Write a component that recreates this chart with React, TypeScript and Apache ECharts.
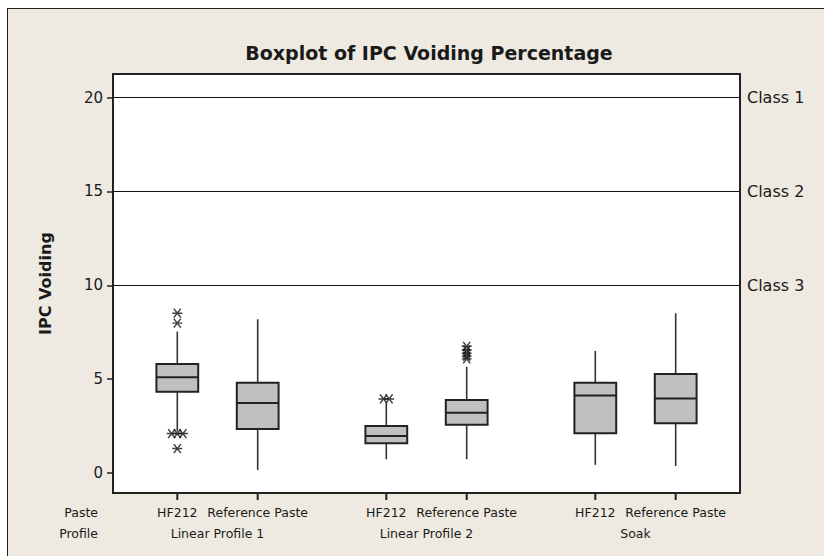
import React, { useEffect, useRef } from "react";
import * as echarts from "echarts";

// Groups along the x axis and the two pastes within each group
const profiles = ["Linear Profile 1", "Linear Profile 2", "Soak"];
const pastes = ["HF212", "Reference Paste"];

// Box summaries per profile: [lower whisker, Q1, median, Q3, upper whisker]
const hf212Boxes = [
  [2.2, 4.33, 5.1, 5.81, 7.53],
  [0.73, 1.58, 1.97, 2.5, 3.71],
  [0.43, 2.11, 4.12, 4.81, 6.5],
];
const referenceBoxes = [
  [0.15, 2.34, 3.73, 4.81, 8.19],
  [0.73, 2.57, 3.21, 3.89, 5.66],
  [0.37, 2.65, 3.96, 5.27, 8.51],
];

// Outlying observations per profile
const hf212Outliers = [
  [8.51, 7.98, 2.1, 2.1, 2.1, 1.3],
  [3.94, 3.94],
  [],
];
const referenceOutliers = [
  [],
  [6.75, 6.55, 6.38, 6.22, 6.08],
  [],
];

const yTicks = [0, 5, 10, 15, 20];
const classLimits = [20, 15, 10];
const classNames = ["Class 1", "Class 2", "Class 3"];

// Layout of the category positions on the numeric x axis
const GROUP_STEP = 2.6;
const X_MIN = 0.2;
const X_MAX = 8.0;
const Y_MIN = -1.07;
const Y_MAX = 21.26;
const BOX_WIDTH = 0.52;
const TIE_STEP = 0.07;

const FONT = "DejaVu Sans";
const TEXT = "#1a1a1a";
const BEIGE = "#EEEAE1";
const FRAME = "#222222";

const posOf = (g: number, k: number) => 1 + g * GROUP_STEP + k;

const boxSets = [hf212Boxes, referenceBoxes];
const outlierSets = [hf212Outliers, referenceOutliers];

const boxData: number[][] = [];
const outlierData: number[][] = [];
const tickPositions: number[] = [];
const tickNames: string[] = [];
const groupCenters: number[] = [];

profiles.forEach((_, g) => {
  groupCenters.push((posOf(g, 0) + posOf(g, 1)) / 2);
  pastes.forEach((paste, k) => {
    const x = posOf(g, k);
    tickPositions.push(x);
    tickNames.push(paste);
    boxData.push([x, ...boxSets[k][g]]);
    // tied outliers sit side by side
    const vals = outlierSets[k][g];
    const counts: Record<string, number> = {};
    vals.forEach((v) => (counts[v.toFixed(3)] = (counts[v.toFixed(3)] || 0) + 1));
    const seen: Record<string, number> = {};
    vals.forEach((v) => {
      const key = v.toFixed(3);
      const n = counts[key];
      const i = seen[key] || 0;
      seen[key] = i + 1;
      outlierData.push([x + (i - (n - 1) / 2) * TIE_STEP, v]);
    });
  });
});

const nameAt = (v: number, xs: number[], names: string[]) => {
  const i = xs.findIndex((p) => Math.abs(p - v) < 1e-6);
  return i >= 0 ? names[i] : "";
};

const ASTERISK = "path://M0,4.5L10,4.5M1.5,0L8.5,9M1.5,9L8.5,0";

const textStyle = (text: string, align: string) => ({
  text,
  fontFamily: FONT,
  fontSize: 12.5,
  fill: TEXT,
  align,
  verticalAlign: "middle",
});

export default function App() {
  const ref = useRef<HTMLDivElement>(null);

  useEffect(() => {
    if (!ref.current) return;
    const chart = echarts.init(ref.current, null, { renderer: "svg" });
    chart.setOption({
      animation: false,
      backgroundColor: "transparent",
      title: {
        text: "Boxplot of IPC Voiding Percentage",
        left: 424,
        top: 38,
        textAlign: "center",
        textStyle: { fontFamily: FONT, fontWeight: "bold", fontSize: 19, color: TEXT },
      },
      grid: {
        left: 113,
        top: 74,
        width: 627,
        height: 419,
        show: true,
        backgroundColor: "#ffffff",
        borderColor: FRAME,
        borderWidth: 2,
      },
      xAxis: {
        type: "value",
        min: X_MIN,
        max: X_MAX,
        position: "bottom",
        axisLine: { show: true, onZero: false, lineStyle: { color: FRAME, width: 2 } },
        splitLine: { show: false },
        axisTick: { show: false },
        axisLabel: {
          customValues: tickPositions,
          formatter: (v: number) => nameAt(v, tickPositions, tickNames),
          margin: 13,
          fontFamily: FONT,
          fontSize: 12.5,
          color: TEXT,
        },
      },
      yAxis: {
        type: "value",
        min: Y_MIN,
        max: Y_MAX,
        name: "IPC Voiding",
        nameLocation: "middle",
        nameGap: 60,
        nameTextStyle: { fontFamily: FONT, fontWeight: "bold", fontSize: 16, color: TEXT },
        axisLine: { show: true, onZero: false, lineStyle: { color: FRAME, width: 2 } },
        splitLine: { show: false },
        axisTick: {
          show: true,
          customValues: yTicks,
          length: 6,
          lineStyle: { color: FRAME, width: 1.5 },
        },
        axisLabel: {
          customValues: yTicks,
          margin: 10,
          fontFamily: FONT,
          fontSize: 15,
          color: TEXT,
        },
      },
      series: [
        {
          type: "custom",
          name: "IPC Voiding",
          data: boxData,
          encode: { x: 0, y: [1, 2, 3, 4, 5] },
          renderItem: (_params: any, api: any) => {
            const x = api.value(0);
            const low = api.coord([x, api.value(1)]);
            const q1 = api.coord([x, api.value(2)]);
            const med = api.coord([x, api.value(3)]);
            const q3 = api.coord([x, api.value(4)]);
            const high = api.coord([x, api.value(5)]);
            const half = api.size([BOX_WIDTH, 0])[0] / 2;
            const whisker = { stroke: "#333", lineWidth: 1.6 };
            return {
              type: "group",
              children: [
                { type: "line", shape: { x1: low[0], y1: low[1], x2: q1[0], y2: q1[1] }, style: whisker },
                { type: "line", shape: { x1: q3[0], y1: q3[1], x2: high[0], y2: high[1] }, style: whisker },
                {
                  type: "rect",
                  shape: { x: q1[0] - half, y: q3[1], width: half * 2, height: q1[1] - q3[1] },
                  style: { fill: "#C0C0C0", stroke: "#222", lineWidth: 2 },
                },
                {
                  type: "line",
                  shape: { x1: med[0] - half, y1: med[1], x2: med[0] + half, y2: med[1] },
                  style: { stroke: "#222", lineWidth: 2 },
                },
              ],
            };
          },
          markLine: {
            silent: true,
            symbol: "none",
            lineStyle: { color: "#111", width: 1, type: "solid" },
            label: {
              position: "end",
              distance: 7,
              formatter: (p: any) => p.name,
              fontFamily: FONT,
              fontSize: 16,
              color: TEXT,
            },
            emphasis: { disabled: true },
            data: classLimits.map((v, i) => ({ yAxis: v, name: classNames[i] })),
          },
        },
        {
          type: "scatter",
          name: "Outliers",
          data: outlierData,
          symbol: ASTERISK,
          symbolSize: [10, 9],
          itemStyle: { color: "rgba(0,0,0,0)", borderColor: "#111", borderWidth: 1.4 },
          z: 5,
        },
      ],
    });

    // x ticks under each paste and profile names under each pair, placed via the axis scales
    const toPx = (x: number, y: number) =>
      chart.convertToPixel({ xAxisIndex: 0, yAxisIndex: 0 }, [x, y]) as number[];
    const bottom = toPx(X_MIN, Y_MIN)[1];
    const ticks = tickPositions.map((p) => {
      const [px] = toPx(p, Y_MIN);
      return {
        type: "line",
        shape: { x1: px, y1: bottom, x2: px, y2: bottom + 7 },
        style: { stroke: FRAME, lineWidth: 2 },
      };
    });
    const groupLabels = groupCenters.map((c, i) => {
      const [px] = toPx(c, Y_MIN);
      return { type: "text", x: px, y: bottom + 40, style: textStyle(profiles[i], "center") };
    });
    chart.setOption({
      graphic: [
        { type: "text", x: 98, y: bottom + 19, style: textStyle("Paste", "right") },
        { type: "text", x: 98, y: bottom + 40, style: textStyle("Profile", "right") },
        ...ticks,
        ...groupLabels,
      ],
    });
    return () => chart.dispose();
  }, []);

  return (
    <div style={{ position: "absolute", left: 0, top: 0, width: 824, height: 556, background: "#fff", overflow: "hidden" }}>
      <div
        style={{
          position: "absolute",
          left: 7,
          top: 8,
          width: 900,
          height: 700,
          background: BEIGE,
          borderLeft: "1px solid #222",
          borderTop: "1px solid #222",
        }}
      />
      <div ref={ref} style={{ position: "absolute", left: 0, top: 0, width: 824, height: 556 }} />
    </div>
  );
}
